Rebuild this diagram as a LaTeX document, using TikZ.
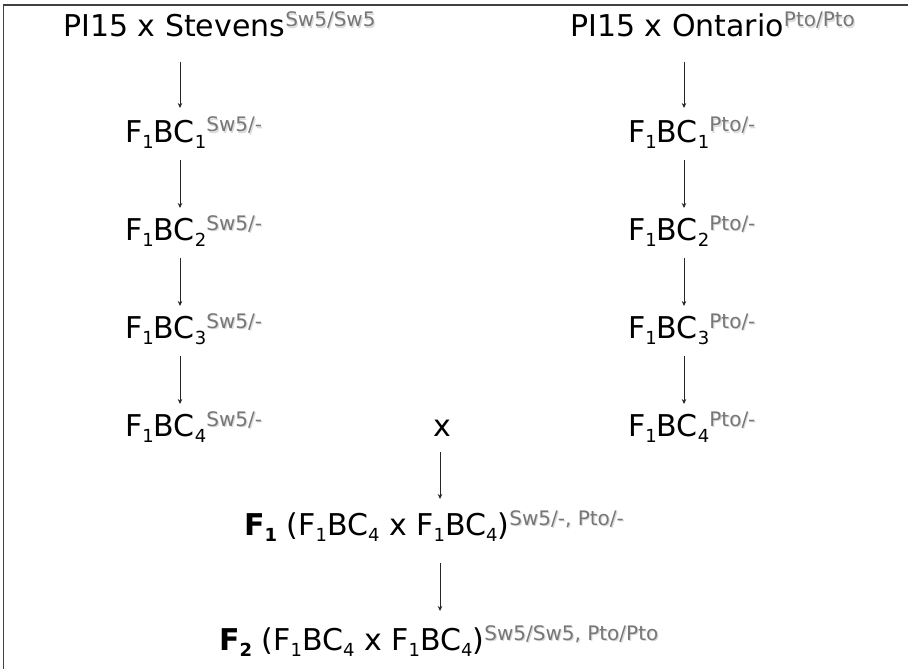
\documentclass[tikz,border=0pt]{standalone}
\usepackage{fontspec}
\setmainfont{DejaVu Sans}
\usetikzlibrary{arrows.meta,calc}
\definecolor{supgray}{HTML}{777777}
\definecolor{shadgray}{HTML}{DADADA}
\newcommand\mysub[1]{\raisebox{-6pt}{\fontsize{18}{18}\selectfont #1}}
\newcommand\mysup[1]{\raisebox{10pt}{\fontsize{20}{20}\selectfont\rlap{\hspace{1.2pt}\raisebox{-1.2pt}{\color{shadgray}#1}}\color{supgray}#1}}
\begin{document}
\begin{tikzpicture}[x=1pt,y=1pt,
  lbl/.style={anchor=base west,inner sep=0pt,font=\fontsize{30}{30}\selectfont},
  arr/.style={draw=black!85,line width=0.8pt,-{Stealth[length=5pt,width=4.5pt]}}]
\useasboundingbox (0,0) rectangle (908,-669);
\draw[black!75,line width=1.4pt] (3.5,-669) -- (3.5,-5) -- (908,-5);
\coordinate (lx) at (180,0);
\coordinate (rx) at (684,0);
\coordinate (cx) at (440,0);
% left column
\node[lbl] (t1) at (63,-37) {PI15 x Stevens\mysup{Sw5/Sw5}};
\node[lbl] (L1) at (125,-142) {F\mysub{1}BC\mysub{1}\mysup{Sw5/-}};
\node[lbl] (L2) at (125,-240) {F\mysub{1}BC\mysub{2}\mysup{Sw5/-}};
\node[lbl] (L3) at (125,-338) {F\mysub{1}BC\mysub{3}\mysup{Sw5/-}};
\node[lbl] (L4) at (125,-436) {F\mysub{1}BC\mysub{4}\mysup{Sw5/-}};
% right column
\node[lbl] (t2) at (570,-37) {PI15 x Ontario\mysup{Pto/Pto}};
\node[lbl] (R1) at (628,-142) {F\mysub{1}BC\mysub{1}\mysup{Pto/-}};
\node[lbl] (R2) at (628,-240) {F\mysub{1}BC\mysub{2}\mysup{Pto/-}};
\node[lbl] (R3) at (628,-338) {F\mysub{1}BC\mysub{3}\mysup{Pto/-}};
\node[lbl] (R4) at (628,-436) {F\mysub{1}BC\mysub{4}\mysup{Pto/-}};
% centre
\node[lbl] (xx) at (433,-436) {x};
\node[lbl] (f1) at (244,-535) {\textbf{F\mysub{1}} (F\mysub{1}BC\mysub{4} x F\mysub{1}BC\mysub{4})\mysup{Sw5/-, Pto/-}};
\node[lbl] (f2) at (219,-650) {\textbf{F\mysub{2}} (F\mysub{1}BC\mysub{4} x F\mysub{1}BC\mysub{4})\mysup{Sw5/Sw5, Pto/Pto}};
% arrows left
\draw[arr] ($(t1.base -| lx)+(0,-25)$) -- ($(L1.base -| lx)+(0,34)$);
\draw[arr] ($(L1.base -| lx)+(0,-18)$) -- ($(L2.base -| lx)+(0,32)$);
\draw[arr] ($(L2.base -| lx)+(0,-18)$) -- ($(L3.base -| lx)+(0,32)$);
\draw[arr] ($(L3.base -| lx)+(0,-18)$) -- ($(L4.base -| lx)+(0,32)$);
% arrows right
\draw[arr] ($(t2.base -| rx)+(0,-25)$) -- ($(R1.base -| rx)+(0,34)$);
\draw[arr] ($(R1.base -| rx)+(0,-18)$) -- ($(R2.base -| rx)+(0,32)$);
\draw[arr] ($(R2.base -| rx)+(0,-18)$) -- ($(R3.base -| rx)+(0,32)$);
\draw[arr] ($(R3.base -| rx)+(0,-18)$) -- ($(R4.base -| rx)+(0,32)$);
% arrows centre
\draw[arr] ($(xx.base -| cx)+(0,-16)$) -- ($(f1.base -| cx)+(0,36)$);
\draw[arr] ($(f1.base -| cx)+(0,-28)$) -- ($(f2.base -| cx)+(0,39)$);
\end{tikzpicture}
\end{document}
